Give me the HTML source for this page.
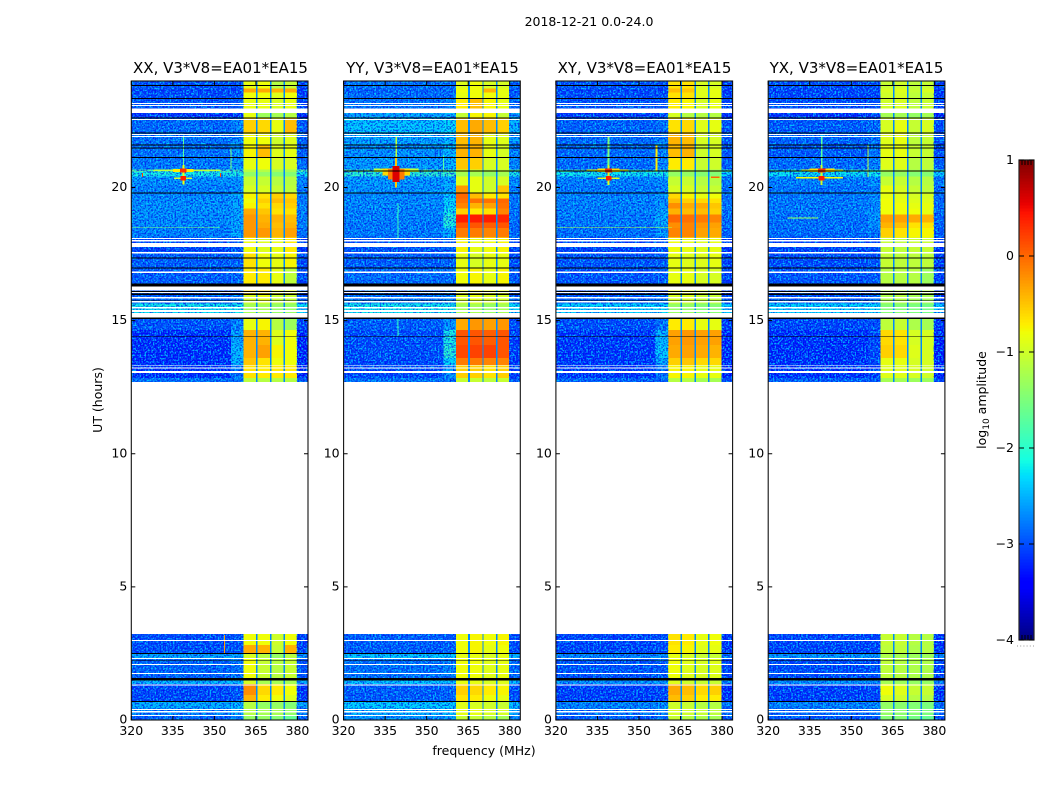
<!DOCTYPE html>
<html lang="en">
<head>
<meta charset="utf-8">
<title>2018-12-21 0.0-24.0 amplitude waterfall</title>
<style>
html,body{margin:0;padding:0;background:#fff;width:1050px;height:800px;overflow:hidden}
svg{display:block}
text{font-family:"DejaVu Sans","Liberation Sans",sans-serif;fill:#000;font-size:12.5px}
</style>
</head>
<body>
<svg id="chart" xmlns="http://www.w3.org/2000/svg" width="1050" height="800" viewBox="0 0 1050 800">
  <defs>
    <filter id="speckle-light" x="0" y="0" width="100%" height="100%" color-interpolation-filters="sRGB">
      <feTurbulence type="fractalNoise" baseFrequency="0.6" numOctaves="1" seed="4"/>
      <feColorMatrix values="0 0 0 0 0  0 0 0 0 .85  0 0 0 0 1  5 0 0 0 -2.2"/>
    </filter>
    <filter id="speckle-dark" x="0" y="0" width="100%" height="100%" color-interpolation-filters="sRGB">
      <feTurbulence type="fractalNoise" baseFrequency="0.6" numOctaves="1" seed="11"/>
      <feColorMatrix values="0 0 0 0 0  0 0 0 0 .05  0 0 0 0 .9  5 0 0 0 -2.3"/>
    </filter>
  </defs>
  <rect x="0" y="0" width="1050" height="800" fill="#fff"/>
  <text x="589" y="26" text-anchor="middle">2018-12-21 0.0-24.0</text>
  <text x="220.5" y="73" text-anchor="middle" style="font-size:15px">XX, V3*V8=EA01*EA15</text>
  <text x="432.5" y="73" text-anchor="middle" style="font-size:15px">YY, V3*V8=EA01*EA15</text>
  <text x="644.5" y="73" text-anchor="middle" style="font-size:15px">XY, V3*V8=EA01*EA15</text>
  <text x="856.5" y="73" text-anchor="middle" style="font-size:15px">YX, V3*V8=EA01*EA15</text>
  <text transform="translate(102 400) rotate(-90)" text-anchor="middle">UT (hours)</text>
  <text x="484" y="755" text-anchor="middle">frequency (MHz)</text>
  <text transform="translate(986 400) rotate(-90)" text-anchor="middle">log<tspan dy="3" style="font-size:9px">10</tspan><tspan dy="-3"> amplitude</tspan></text>
  <g id="panels"></g>
  <g id="colorbar"></g>
</svg>
<script>
// ---- axis data ----
const xTicks = [320, 335, 350, 365, 380];
const yTicks = [0, 5, 10, 15, 20];
const colorTicks = [1, 0, -1, -2, -3, -4];
const colorTickLabels = ['1', '0', '\u22121', '\u22122', '\u22123', '\u22124'];
const panelIds = ['xx', 'yy', 'xy', 'yx'];
const panelLefts = [131.3, 343.6, 555.9, 768.2];

// ---- frequency bins (MHz) ----
const freqEdges = [320, 356, 360.5, 365, 365.6, 370.1, 370.6, 375, 375.5, 379.8, 383.8];
const gapLevel = -2.7;
const continuumOffset = -0.15;
const spwOffset = 0.15;

// ---- time rows: row i spans rowTops[i]..rowBottoms[i] (hours) ----
const rowTops = [24, 23.72, 23.57, 23.35, 22.79, 22.6, 22.03, 21.58, 21.13, 20.68, 20.59, 20.42, 20.08, 19.78, 19.59, 19.41, 19.22, 18.99, 18.69, 18.47, 18.13, 17.57, 16.97, 16.4, 15.99, 15.65, 15.51, 15.29, 15.09, 14.64, 14.08, 13.59, 13.33, 12.84, 3.23, 2.82, 2.48, 2.33, 1.58, 1.35, 0.94, 0.68, 0.45, 0.15];
const rowBottoms = [23.72, 23.57, 23.35, 22.79, 22.6, 22.03, 21.58, 21.13, 20.68, 20.59, 20.42, 20.08, 19.78, 19.59, 19.41, 19.22, 18.99, 18.69, 18.47, 18.13, 17.57, 16.97, 16.4, 15.99, 15.65, 15.51, 15.29, 15.09, 14.64, 14.08, 13.59, 13.33, 12.84, 12.7, 2.82, 2.48, 2.33, 1.58, 1.35, 0.94, 0.68, 0.45, 0.15, 0];

// ---- log10 amplitude per row: [continuum, shoulder, spw1, spw2, spw3, spw4] ----
const levelsXX = [
[-2.9,-2.9,-1,-.95,-1.3,-1.2],[-3,-3,-.5,-.5,-.55,-.5],[-2.95,-2.95,-.95,-.95,-1.05,-.95],[-2.9,-2.8,-1,-1,-1.1,-1],
[-3.1,-3.1,-1,-1.45,-1.4,-1.3],[-2.75,-2.6,-.7,-.75,-1,-.6],[-2.7,-2.6,-.95,-.95,-1.15,-1.05],[-2.7,-2.5,-.9,-.6,-1.05,-1],
[-2.65,-2.5,-1,-.95,-1.1,-1.1],[-1.5,-1.6,-1.3,-1.3,-1.4,-1.4],[-1.95,-1.9,-1.5,-1.5,-1.6,-1.6],[-2.5,-2.5,-1.2,-1.2,-1.3,-1.3],
[-2.6,-2.5,-1.1,-1.1,-1.2,-1.25],[-2.55,-2.4,-.9,-.8,-.7,-.75],[-2.55,-2.4,-.95,-.7,-.6,-.65],[-2.5,-2.4,-.9,-.8,-.75,-.7],
[-2.5,-2.4,-.5,-.65,-.8,-.8],[-2.55,-2.4,-.4,-.55,-.55,-.6],[-2.55,-2.4,-.4,-.5,-.6,-.55],[-2.6,-2.4,-.4,-.4,-.55,-.45],
[-3,-2.9,-.95,-1.05,-1,-.85],[-2.85,-2.8,-.8,-.95,-1,-.9],[-2.85,-2.8,-.85,-.85,-1,-1.25],[-2.9,-2.9,-.8,-.8,-1,-1],
[-2.8,-2.6,-1.1,-1,-1.2,-1.2],[-1.95,-1.95,-1.4,-1.4,-1.5,-1.5],[-2.05,-2,-1.4,-1.4,-1.5,-1.5],[-2.9,-2.85,-1.1,-1.05,-1.2,-1.2],
[-2.9,-2.6,-1,-.9,-1.3,-1.45],[-3.15,-2.4,-.55,-.55,-1.05,-.95],[-3.15,-2.3,-.55,-.45,-.9,-.95],[-3.15,-2.3,-.65,-.8,-.95,-.95],
[-3.15,-2.7,-.8,-.85,-.85,-.85],[-2.7,-2.7,-1.25,-1.3,-1.3,-1.3],[-2.95,-2.9,-.95,-.95,-1.15,-.95],[-2.95,-2.9,-.5,-.55,-1.2,-.55],
[-2.4,-2.4,-1.1,-1.3,-1.5,-1.3],[-2.8,-2.7,-.95,-1.2,-1.3,-1.2],[-2.3,-2.3,-1.1,-1.4,-1.4,-1.4],[-3,-2.9,-.35,-.75,-.85,-.95],
[-3,-2.9,-.55,-.85,-.95,-1.05],[-2.35,-2.3,-1.3,-1.5,-1.5,-1.6],[-2.6,-2.4,-1.3,-1.4,-1.4,-1.5],[-2.8,-2.7,-1.5,-1.5,-1.6,-1.8]];
const levelsYY = [
[-2.7,-2.7,-1.05,-.95,-1.1,-1.1],[-2.8,-2.8,-.95,-.95,-.55,-1],[-2.75,-2.75,-1,-.95,-.95,-1],[-2.7,-2.6,-.85,-.6,-.9,-1],
[-2.4,-2.4,-1.2,-.9,-.9,-1.2],[-2.2,-2.1,-.6,-.5,-.6,-.7],[-2.4,-2.3,-.6,-.55,-1,-1.05],[-2.5,-2.3,-.55,-.55,-1,-1.1],
[-2.45,-2.3,-.65,-.7,-1.1,-1.1],[-1.4,-1.5,-1.2,-1.2,-1.3,-1.2],[-1.8,-1.7,-1.4,-1.4,-1.5,-1.4],[-2.45,-2.4,-1.05,-1,-1.15,-1.1],
[-2.5,-2.3,-.4,-1,-1.15,-.65],[-2.55,-2.2,-.15,-.6,-.85,-.8],[-2.55,-2.1,-.2,-.2,-.2,-.15],[-2.55,-2.1,-.3,-.55,-.45,-.2],
[-2.6,-2,-.7,-.85,-.8,-.3],[-2.6,-1.8,.25,.25,.25,.2],[-2.65,-1.9,-.05,-.05,-.1,-.05],[-2.65,-2.3,-.25,-.25,-.3,-.25],
[-2.9,-2.8,-.9,-1,-.95,-.9],[-2.85,-2.8,-1,-1.1,-1,-1],[-2.75,-2.7,-.95,-.9,-1,-.9],[-2.9,-2.9,-1,-.9,-1,-1],
[-2.7,-2.6,-1.1,-1,-1.1,-1.1],[-1.95,-1.95,-1.4,-1.4,-1.5,-1.4],[-2,-1.95,-1.4,-1.4,-1.5,-1.4],[-2.8,-2.75,-1,-1,-1.1,-1],
[-2.85,-2.5,-.5,-.4,-.45,-.4],[-2.95,-1.9,-.05,-.05,-.1,-.05],[-2.95,-1.8,.02,.05,.05,-.05],[-3,-2.1,-.25,-.25,-.3,-.3],
[-3,-2.5,-.7,-.7,-.8,-.7],[-2.7,-2.7,-1.2,-1.2,-1.25,-1.2],[-2.85,-2.85,-.95,-.9,-.95,-.9],[-2.85,-2.8,-.95,-.9,-1,-.95],
[-2.2,-2.2,-1,-1,-1.1,-1],[-2.7,-2.6,-.95,-.95,-1.05,-1],[-2.2,-2.2,-1,-1,-1.1,-1.05],[-2.85,-2.8,-.7,-.75,-.85,-.9],
[-2.85,-2.8,-.8,-.85,-.95,-1],[-2.15,-2.15,-1.05,-1.1,-1.15,-1.2],[-2.35,-2.3,-1,-1,-1.1,-1.1],[-2.5,-2.4,-1.2,-1.2,-1.3,-1.4]];
const levelsXY = [
[-2.9,-2.9,-.8,-.8,-1.1,-1.1],[-3,-3,-.6,-.65,-1.05,-1],[-2.95,-2.95,-.8,-.8,-1.05,-1],[-2.9,-2.85,-.85,-.9,-1.1,-1],
[-3.05,-3,-1.1,-1.3,-1.3,-1.3],[-2.8,-2.7,-.8,-.75,-1.05,-1],[-2.75,-2.65,-.55,-.6,-1.1,-1.1],[-2.75,-2.6,-.6,-.55,-1.15,-1.1],
[-2.75,-2.6,-.85,-.85,-1.2,-1.15],[-1.5,-1.6,-1.3,-1.3,-1.4,-1.4],[-2,-1.95,-1.5,-1.5,-1.6,-1.6],[-2.6,-2.55,-1.2,-1.2,-1.3,-1.3],
[-2.65,-2.55,-1.1,-1.1,-1.2,-1.2],[-2.6,-2.5,-.75,-.9,-1,-.95],[-2.6,-2.5,-.6,-.7,-.75,-.8],[-2.6,-2.5,-.35,-.5,-.5,-.65],
[-2.6,-2.4,-.55,-.6,-.6,-.7],[-2.65,-2.35,-.15,-.2,-.25,-.3],[-2.65,-2.4,-.35,-.3,-.4,-.45],[-2.7,-2.5,-.3,-.3,-.45,-.5],
[-3,-2.9,-.95,-1,-1.05,-1],[-2.9,-2.85,-1,-1.05,-1.05,-1],[-2.9,-2.85,-1,-1,-1.1,-1.1],[-3,-3,-.95,-1,-1.1,-1.1],
[-2.85,-2.7,-1.1,-1.1,-1.2,-1.2],[-2.1,-2.1,-1.5,-1.5,-1.6,-1.6],[-2.15,-2.1,-1.5,-1.5,-1.6,-1.6],[-2.95,-2.9,-1.1,-1.1,-1.2,-1.2],
[-2.95,-2.7,-.85,-.85,-1,-1],[-3.1,-2.3,-.45,-.4,-.45,-.45],[-3.1,-2.2,-.5,-.45,-.5,-.55],[-3.1,-2.4,-.7,-.65,-.75,-.75],
[-3.1,-2.7,-.9,-.9,-1,-1],[-2.8,-2.8,-1.3,-1.3,-1.4,-1.4],[-3,-2.95,-.8,-.85,-1,-.95],[-3,-2.95,-.85,-.9,-1.05,-1],
[-2.6,-2.55,-1,-1.1,-1.2,-1.2],[-2.9,-2.85,-.95,-1.05,-1.1,-1.05],[-2.5,-2.5,-1.05,-1.15,-1.2,-1.2],[-3.05,-3,-.5,-.6,-.75,-.7],
[-3.05,-3,-.6,-.7,-.85,-.85],[-2.6,-2.55,-1.15,-1.2,-1.3,-1.3],[-2.7,-2.6,-1.1,-1.15,-1.2,-1.25],[-2.85,-2.8,-1.2,-1.3,-1.35,-1.4]];
const levelsYX = [
[-2.95,-2.95,-1.2,-1.15,-1.25,-1.2],[-3,-3,-1.1,-1.05,-1.2,-1.1],[-3,-3,-1.15,-1.1,-1.25,-1.2],[-2.95,-2.9,-1.15,-1.1,-1.25,-1.2],
[-3.1,-3,-1.4,-1.4,-1.5,-1.4],[-2.85,-2.75,-1.1,-1,-1.2,-1.1],[-2.8,-2.7,-1.05,-1,-1.25,-1.2],[-2.85,-2.7,-1,-1,-1.2,-1.2],
[-2.75,-2.6,-1.05,-1.05,-1.3,-1.25],[-1.6,-1.7,-1.3,-1.35,-1.4,-1.4],[-2.05,-2,-1.5,-1.5,-1.6,-1.6],[-2.6,-2.55,-1.2,-1.2,-1.3,-1.3],
[-2.7,-2.6,-1,-1.1,-1.2,-1.25],[-2.65,-2.55,-1,-1.05,-1.1,-1.1],[-2.65,-2.55,-.95,-1,-1.05,-1.05],[-2.65,-2.55,-.95,-.95,-1,-1],
[-2.65,-2.5,-.95,-.95,-.95,-1],[-2.7,-2.5,-.45,-.45,-.5,-.55],[-2.7,-2.55,-.55,-.6,-.8,-.8],[-2.75,-2.65,-.7,-.8,-.9,-.9],
[-3,-2.95,-1.2,-1.25,-1.2,-1.2],[-2.95,-2.9,-1.2,-1.25,-1.25,-1.25],[-2.9,-2.85,-1.3,-1.3,-1.3,-1.45],[-3,-3,-1.3,-1.3,-1.3,-1.3],
[-2.9,-2.75,-1.35,-1.3,-1.4,-1.4],[-2.1,-2.1,-1.6,-1.6,-1.65,-1.7],[-2.15,-2.1,-1.6,-1.6,-1.65,-1.7],[-2.95,-2.9,-1.3,-1.3,-1.4,-1.4],
[-3,-2.95,-1.25,-1.2,-1.35,-1.4],[-3.15,-3,-.75,-.8,-1.1,-1.1],[-3.15,-3,-.7,-.75,-1.05,-1.1],[-3.15,-3,-1,-1,-1.1,-1.1],
[-3.15,-3.05,-1.05,-1.05,-1.1,-1.15],[-2.85,-2.85,-1.4,-1.4,-1.45,-1.45],[-3,-3,-1.2,-1.2,-1.3,-1.3],[-3,-3,-1.25,-1.25,-1.35,-1.3],
[-2.5,-2.5,-1.35,-1.4,-1.45,-1.45],[-2.95,-2.9,-1.25,-1.3,-1.35,-1.35],[-2.5,-2.5,-1.4,-1.45,-1.5,-1.5],[-3.05,-3,-.95,-1.05,-1.2,-1.2],
[-3.05,-3,-1.1,-1.15,-1.3,-1.3],[-2.6,-2.55,-1.5,-1.55,-1.6,-1.65],[-2.75,-2.7,-1.5,-1.55,-1.6,-1.65],[-2.9,-2.85,-1.6,-1.6,-1.7,-1.8]];

// ---- flagged time ranges [low hour, high hour] ----
const whiteFlags = [[23.13,23.17],[23.07,23.1],[22.79,22.97],[22.54,22.58],[21.97,22.01],[21.9,21.93],[18.07,18.1],[17.98,18.02],[17.77,17.91],[17.53,17.57],[16.79,16.85],[16.14,16.29],[16.04,16.08],[15.84,15.88],[15.68,15.73],[15.45,15.51],[15.33,15.39],[15.12,15.29],[13.31,13.34],[13.21,13.24],[13.04,13.1],[3.23,12.7],[2.96,3],[2.29,2.33],[2.07,2.11],[1.73,1.77],[1.3,1.33],[.38,.42],[.29,.33],[.15,.19]];
const blackFlags = [[23.82,23.85],[23.32,23.36],[22.59,22.62],[22.03,22.06],[21.58,21.62],[21.47,21.51],[21.1,21.14],[19.78,19.82],[17.34,17.38],[16.96,16.99],[16.29,16.4],[16.08,16.12],[15.97,16.01],[15.75,15.78],[15.07,15.11],[14.4,14.43],[2.48,2.52],[2.21,2.24],[1.48,1.58],[.67,.71]];

// ---- interference features: [MHz low, MHz high, hour low, hour high, log10 amplitude] ----
const rfiXX = [[338.7,339.1,20.85,21.9,-1.7],[338.5,339.2,20.12,20.85,-.8],[328,352,20.62,20.67,-1.1],[335,342.5,20.58,20.7,-.7],[335.5,342,20.32,20.38,-1],[337.6,340,20.57,20.72,.3],[337.8,339.8,20.27,20.43,.4],[355.8,356.2,20.7,21.5,-1.5],[320,352,18.47,18.5,-1.5],[353.4,353.9,2.5,3.2,-.3],[323.8,324.3,20.4,20.55,.2],[352,352.4,20.4,20.55,.1]];
const rfiYY = [[338.7,339.3,21.1,21.9,-1.1],[338.6,339.3,20,21.1,-.5],[331,347,20.58,20.72,-1.1],[334,344,20.45,20.72,-.6],[336,342,20.3,20.7,-.1],[337.6,340.2,20.2,20.8,.6],[339.4,339.8,18.1,19.4,-1.9],[339.4,339.8,14.4,15.1,-1.9],[355.8,356.2,20.6,21.2,-1.7],[320,384,20.6,20.63,-9]];
const rfiXY = [[338.7,339.3,20.85,21.9,-1.5],[338.6,339.3,20.1,20.85,-.9],[331,346,20.62,20.68,-.8],[335,343,20.58,20.72,-.6],[335,343,20.32,20.38,-.9],[337.8,340.2,20.56,20.72,.3],[338,340,20.27,20.43,.4],[356,356.6,20.64,21.58,-.7],[320,362,18.47,18.5,-1.2],[376,379,20.35,20.42,0],[320,384,20.6,20.63,-9]];
const rfiYX = [[339,339.6,20.85,21.9,-1.7],[338.9,339.6,20.1,20.85,-1],[332,347,20.62,20.68,-.9],[335,344,20.58,20.72,-.6],[330,347,20.33,20.39,-.8],[338,340.6,20.56,20.72,.3],[338.2,340.4,20.27,20.43,.4],[355.8,356.2,20.4,21.6,-1.1],[327,338,18.83,18.87,-1.3],[320,384,20.6,20.63,-9]];

const levelTables = [levelsXX, levelsYY, levelsXY, levelsYX];
const rfiTables = [rfiXX, rfiYY, rfiXY, rfiYX];

// ---- scales ----
const SVGNS = 'http://www.w3.org/2000/svg';
const PANEL_W = 176.7, PLOT_TOP = 81, PLOT_BOTTOM = 720, F0 = 320, F1 = 383.8, H1 = 24;
const CB_X = 1019, CB_W = 15, CB_TOP = 160, CB_BOTTOM = 640, V_MIN = -4, V_MAX = 1;
function xScale(left, f) { return left + (f - F0) / (F1 - F0) * PANEL_W; }
function yScale(h) { return PLOT_BOTTOM - h / H1 * (PLOT_BOTTOM - PLOT_TOP); }
function cbScale(v) { return CB_BOTTOM - (v - V_MIN) / (V_MAX - V_MIN) * (CB_BOTTOM - CB_TOP); }

function ramp(t, pts) {
  for (let i = 1; i < pts.length; i++) {
    if (t <= pts[i][0]) {
      const a = pts[i - 1], b = pts[i];
      return a[1] + (b[1] - a[1]) * (t - a[0]) / (b[0] - a[0]);
    }
  }
  return pts[pts.length - 1][1];
}
function jet(v) {
  if (v <= -9) return '#000';
  const t = Math.max(0, Math.min(1, (v - V_MIN) / (V_MAX - V_MIN)));
  const r = ramp(t, [[0,0],[.35,0],[.66,1],[.89,1],[1,.5]]);
  const g = ramp(t, [[0,0],[.125,0],[.375,1],[.64,1],[.91,0],[1,0]]);
  const b = ramp(t, [[0,.5],[.11,1],[.34,1],[.65,0],[1,0]]);
  return 'rgb(' + Math.round(r * 255) + ',' + Math.round(g * 255) + ',' + Math.round(b * 255) + ')';
}
function rectEl(parent, x0, x1, y0, y1, fill) {
  const el = document.createElementNS(SVGNS, 'rect');
  el.setAttribute('x', x0);
  el.setAttribute('y', y0);
  el.setAttribute('width', x1 - x0);
  el.setAttribute('height', y1 - y0);
  el.setAttribute('fill', fill);
  parent.appendChild(el);
  return el;
}
function lineEl(parent, x1, y1, x2, y2) {
  const el = document.createElementNS(SVGNS, 'line');
  el.setAttribute('x1', x1);
  el.setAttribute('y1', y1);
  el.setAttribute('x2', x2);
  el.setAttribute('y2', y2);
  el.setAttribute('stroke', '#000');
  el.setAttribute('stroke-width', '1');
  parent.appendChild(el);
  return el;
}
function textEl(parent, x, y, anchor, str) {
  const el = document.createElementNS(SVGNS, 'text');
  el.setAttribute('x', x);
  el.setAttribute('y', y);
  el.setAttribute('text-anchor', anchor);
  el.textContent = str;
  parent.appendChild(el);
  return el;
}
function binLevel(row, bin) {
  if (bin === 0) return row[0] + continuumOffset;
  if (bin === 1) return row[1] + continuumOffset;
  if (bin === 2) return row[2] + spwOffset;
  if (bin === 4) return row[3] + spwOffset;
  if (bin === 6) return row[4] + spwOffset;
  if (bin === 8) return row[5] + spwOffset;
  if (bin === 9) return row[0] + continuumOffset - 0.1;
  return gapLevel;
}
function addGrain(parent, x0, x1, filterId, opacity) {
  const el = rectEl(parent, x0, x1, PLOT_TOP, PLOT_BOTTOM, '#000');
  el.setAttribute('filter', 'url(#' + filterId + ')');
  el.setAttribute('opacity', opacity);
  return el;
}

const panelsRoot = document.getElementById('panels');
panelIds.forEach(function (id, p) {
  const left = panelLefts[p];
  const right = left + PANEL_W;
  const g = document.createElementNS(SVGNS, 'g');
  
  
  panelsRoot.appendChild(g);

  const heat = document.createElementNS(SVGNS, 'g');
  heat.setAttribute('shape-rendering', 'crispEdges');
  
  
  g.appendChild(heat);

  levelTables[p].forEach(function (row, r) {
    for (let b = 0; b < freqEdges.length - 1; b++) {
      const cell = rectEl(heat, xScale(left, freqEdges[b]), xScale(left, freqEdges[b + 1]), yScale(rowTops[r]), yScale(rowBottoms[r]), jet(binLevel(row, b)));
      
      
    }
  });

  // decorative fine-grain texture over the continuum channels (not data)
  const grainA = addGrain(heat, xScale(left, freqEdges[0]), xScale(left, freqEdges[2]), 'speckle-light', '.8');
  
  
  const grainB = addGrain(heat, xScale(left, freqEdges[0]), xScale(left, freqEdges[2]), 'speckle-dark', '.7');
  
  
  const grainC = addGrain(heat, xScale(left, freqEdges[9]), xScale(left, freqEdges[10]), 'speckle-light', '.8');
  
  
  const grainD = addGrain(heat, xScale(left, freqEdges[9]), xScale(left, freqEdges[10]), 'speckle-dark', '.7');
  
  

  rfiTables[p].forEach(function (m) {
    const mark = rectEl(heat, xScale(left, m[0]), xScale(left, m[1]), yScale(m[3]), yScale(m[2]), jet(m[4]));
    
    
  });
  whiteFlags.forEach(function (f) {
    const flag = rectEl(heat, left, right, yScale(f[1]), yScale(f[0]), '#fff');
    
    
  });
  blackFlags.forEach(function (f) {
    const flag = rectEl(heat, left, right, yScale(f[1]), yScale(f[0]), '#000');
    
    
  });

  const frame = document.createElementNS(SVGNS, 'rect');
  frame.setAttribute('x', left);
  frame.setAttribute('y', PLOT_TOP);
  frame.setAttribute('width', PANEL_W);
  frame.setAttribute('height', PLOT_BOTTOM - PLOT_TOP);
  frame.setAttribute('fill', 'none');
  frame.setAttribute('stroke', '#111');
  frame.setAttribute('stroke-width', '1.1');
  
  
  g.appendChild(frame);

  xTicks.forEach(function (t) {
    const x = xScale(left, t);
    const tb = lineEl(g, x, PLOT_BOTTOM, x, PLOT_BOTTOM - 4);
    
    
    const tt = lineEl(g, x, PLOT_TOP, x, PLOT_TOP + 4);
    
    
    const lab = textEl(g, x, 735, 'middle', String(t));
    
    
  });
  yTicks.forEach(function (t) {
    const y = yScale(t);
    const tl = lineEl(g, left, y, left + 4, y);
    
    
    const tr = lineEl(g, right, y, right - 4, y);
    
    
    const lab = textEl(g, left - 4, y + 3.5, 'end', String(t));
    
    
  });
});

// ---- colorbar ----
const cb = document.getElementById('colorbar');
const cbBands = 160;
for (let i = 0; i < cbBands; i++) {
  const v0 = V_MIN + (V_MAX - V_MIN) * i / cbBands;
  const v1 = V_MIN + (V_MAX - V_MIN) * (i + 1) / cbBands;
  const band = rectEl(cb, CB_X, CB_X + CB_W, cbScale(v1), cbScale(v0) + 0.5, jet((v0 + v1) / 2));
  
  
}
const cbFrame = document.createElementNS(SVGNS, 'rect');
cbFrame.setAttribute('x', CB_X);
cbFrame.setAttribute('y', CB_TOP);
cbFrame.setAttribute('width', CB_W);
cbFrame.setAttribute('height', CB_BOTTOM - CB_TOP);
cbFrame.setAttribute('fill', 'none');
cbFrame.setAttribute('stroke', '#222');
cbFrame.setAttribute('stroke-width', '1.2');


cb.appendChild(cbFrame);
colorTicks.forEach(function (v, i) {
  const y = cbScale(v);
  const a = lineEl(cb, CB_X, y, CB_X + 5, y);
  
  
  const b = lineEl(cb, CB_X + CB_W, y, CB_X + CB_W - 5, y);
  
  
  const lab = textEl(cb, 1014, y + 4, 'end', colorTickLabels[i]);
  
  
});
[3, 6, 9, 12].forEach(function (dx) {
  const top = lineEl(cb, CB_X + dx, CB_TOP, CB_X + dx, CB_TOP + 5);
  
  
  const bot = lineEl(cb, CB_X + dx, CB_BOTTOM, CB_X + dx, CB_BOTTOM - 5);
  
  
});
const dots = lineEl(cb, 1017, 646, 1035, 646);
dots.setAttribute('stroke', '#999');
dots.setAttribute('stroke-dasharray', '1 2.2');


</script>
</body>
</html>
